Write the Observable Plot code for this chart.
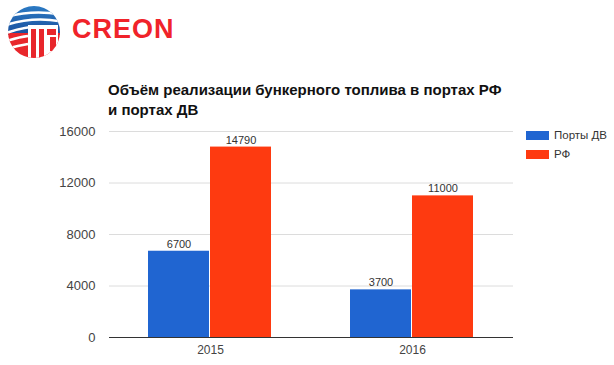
<!DOCTYPE html>
<html><head><meta charset="utf-8">
<script src="https://cdn.jsdelivr.net/npm/d3@7"></script>
<script src="https://cdn.jsdelivr.net/npm/@observablehq/plot@0.6"></script>
<style>
body{margin:0;background:#fff;font-family:"Liberation Sans",Arial,sans-serif;}
#wrap{position:relative;width:614px;height:365px;overflow:hidden;}
#logo{position:absolute;left:6px;top:3px;}
#brand{position:absolute;left:72px;top:14px;font-size:27px;font-weight:bold;color:#f0232a;letter-spacing:1px;}
#title{position:absolute;left:108px;top:80px;font-size:15px;font-weight:bold;color:#111;line-height:20px;}
#chart{position:absolute;left:0;top:120px;}
.leg{position:absolute;left:526px;font-size:11.5px;color:#333;display:flex;align-items:center;}
.leg span.sw{display:inline-block;width:23px;height:9px;margin-right:5px;}
</style></head>
<body><div id="wrap">
<svg id="logo" width="58" height="58" viewBox="0 0 58 58">
 <defs><clipPath id="cc"><circle cx="28" cy="29" r="26"/></clipPath>
 <linearGradient id="bg" x1="0" y1="0" x2="0" y2="1"><stop offset="0" stop-color="#2d7fc8"/><stop offset="1" stop-color="#1a4f9c"/></linearGradient></defs>
 <g clip-path="url(#cc)">
  <rect x="0" y="0" width="58" height="32" fill="url(#bg)"/>
  <rect x="0" y="30" width="58" height="30" fill="#e8262b"/>
  <path d="M0 14 Q28 6 58 12" stroke="#fff" stroke-width="2.5" fill="none"/>
  <path d="M0 22 Q28 13 58 19" stroke="#fff" stroke-width="2.5" fill="none"/>
  <path d="M0 30 Q24 22 40 24" stroke="#fff" stroke-width="2.5" fill="none"/>
  <path d="M0 38 Q14 34 22 33" stroke="#fff" stroke-width="2.5" fill="none"/>
  <path d="M0 46 Q10 43 22 41" stroke="#fff" stroke-width="2.5" fill="none"/>
  <rect x="22" y="22" width="30" height="40" fill="#fff"/>
  <rect x="25" y="26" width="5" height="34" fill="#e8262b"/>
  <rect x="33" y="26" width="5" height="34" fill="#e8262b"/>
  <rect x="41" y="26" width="9" height="6" fill="#e8262b"/>
  <rect x="44" y="34" width="6" height="14" fill="#e8262b"/>
 </g>
</svg>
<div id="brand">CREON</div>
<div id="title">Объём реализации бункерного топлива в портах РФ<br>и портах ДВ</div>
<div id="chart"></div>
<div class="leg" style="top:129px"><span class="sw" style="background:#2065d1"></span>Порты ДВ</div>
<div class="leg" style="top:148px"><span class="sw" style="background:#fe3a10"></span>РФ</div>
</div>
<script>
const years = ["2015", "2016"];
const seriesNames = ["Порты ДВ", "РФ"];
const portsDV = [6700, 3700];
const rf = [14790, 11000];
const yTicks = [0, 4000, 8000, 12000, 16000];
const colors = ["#2065d1", "#fe3a10"];

const data = [];
years.forEach((yr, i) => {
  data.push({year: yr, series: seriesNames[0], value: portsDV[i]});
  data.push({year: yr, series: seriesNames[1], value: rf[i]});
});

const chart = Plot.plot({
  width: 614,
  height: 245,
  marginLeft: 108,
  marginRight: 101,
  marginTop: 11,
  marginBottom: 28,
  style: {fontFamily: '"Liberation Sans", Arial, sans-serif', fontSize: "12px", color: "#444", background: "#fff"},
  fx: {domain: years, padding: 0, axis: "bottom", tickSize: 0, tickPadding: 8, label: null},
  x: {domain: seriesNames, axis: null, paddingInner: 0.016, paddingOuter: 0.615},
  y: {domain: [0, 16000], ticks: yTicks, tickSize: 0, tickPadding: 14, label: null, tickFormat: d => String(d)},
  color: {domain: seriesNames, range: colors},
  marks: [
    Plot.ruleY(yTicks.filter(d => d > 0), {stroke: "#dcdcdc", strokeWidth: 1}),
    Plot.barY(data, {fx: "year", x: "series", y: "value", fill: "series"}),
    Plot.ruleY([0], {stroke: "#333", strokeWidth: 1}),
    Plot.text(data, {fx: "year", x: "series", y: "value", text: d => String(d.value), dy: -7, fontSize: 11, fill: "#333"})
  ]
});
d3.select(chart).selectAll('g[aria-label="y-axis tick label"]').attr("font-size", 13);
document.getElementById("chart").appendChild(chart);
</script>
</body></html>
